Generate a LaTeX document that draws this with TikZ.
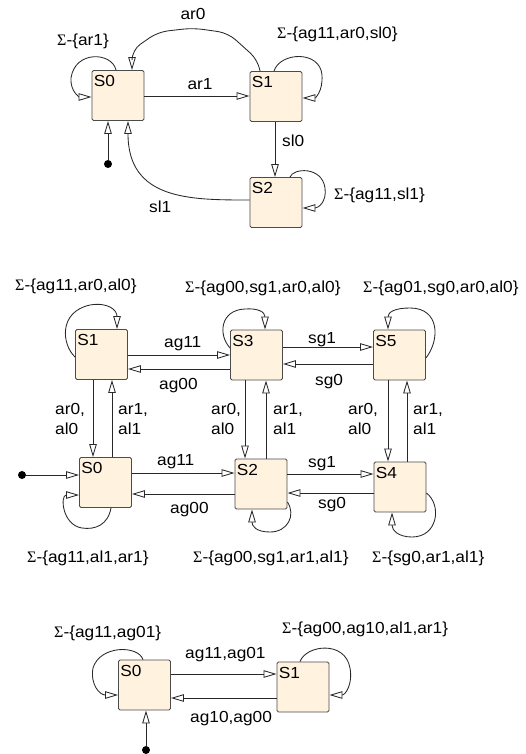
\documentclass[tikz,border=0pt]{standalone}
\usepackage{fontspec}
\setmainfont{Liberation Sans}[FakeStretch=1.08]
\newfontfamily\sigfont{Liberation Serif}
\usetikzlibrary{arrows.meta}
\definecolor{boxfill}{RGB}{255,243,224}
\definecolor{boxline}{RGB}{75,75,75}
\definecolor{edgecol}{RGB}{40,40,40}
\newcommand{\Sg}{{\sigfont Σ}}
\begin{document}
\begin{tikzpicture}[x=1pt,y=-1pt,
  lbl/.style={inner sep=0pt, font=\fontsize{16}{20}\selectfont},
  state/.style={draw=boxline, fill=boxfill, rounded corners=1.5pt, minimum width=52pt, minimum height=50pt, inner sep=0pt, line width=0.9pt},
  arr/.style={draw=edgecol, line width=0.85pt, -{Triangle[open,length=13pt,width=7.5pt]}},
  dot/.style={circle, fill=black, inner sep=0pt, minimum size=8pt},
]
\useasboundingbox (0,0) rectangle (525,754);

% ---------- top diagram ----------
\node[state, label={[lbl,anchor=north west,xshift=2pt,yshift=-5.5pt]north west:S0}] (a0) at (118,95.5) {};
\node[state, label={[lbl,anchor=north west,xshift=2pt,yshift=-5.5pt]north west:S1}] (a1) at (276,96.5) {};
\node[state, label={[lbl,anchor=north west,xshift=2pt,yshift=-5.5pt]north west:S2}] (a2) at (276,202.5) {};
\node[dot] (ai) at (108,164) {};
\draw[arr] (ai) -- (ai |- a0.south);
\draw[arr] ([yshift=-0.5pt]a0.east) -- ([yshift=-0.5pt]a0.east -| a1.west);
\draw[arr] ([xshift=-1pt]a1.south) -- ([xshift=-1pt]a1.south |- a2.north);
\draw[arr, rounded corners=10pt] ([xshift=-16pt]a1.north) -- (258,60) -- (228,33) -- (193,28) -- (158,32) -- (132,50) -- ([xshift=14pt]a0.north);
\draw[arr] ([yshift=2.5pt]a2.west) .. controls (190,200) and (128,200) .. ([xshift=10pt]a0.south);
\draw[arr] ([xshift=-2pt]a0.north) .. controls (112,52) and (75,50) .. (71,78) .. controls (70,92) and (80,97) .. ([yshift=-1.5pt]a0.west);
\draw[arr] ([xshift=-2pt]a1.north) .. controls (280,52) and (320,50) .. (322,75) .. controls (323,92) and (315,98) .. ([yshift=-1.5pt]a1.east);
\draw[arr] ([xshift=14pt]a2.north) .. controls (293,168) and (322,166) .. (325,188) .. controls (327,202) and (318,208) .. ([yshift=-5.5pt]a2.east);
\node[lbl,anchor=base] at (193,20) {ar0};
\node[lbl,anchor=base west] at (57,46) {\Sg-\{ar1\}};
\node[lbl,anchor=base] at (200,90) {ar1};
\node[lbl,anchor=base west] at (277,39) {\Sg-\{ag11,ar0,sl0\}};
\node[lbl,anchor=base west] at (282,147) {sl0};
\node[lbl,anchor=base west] at (334,199) {\Sg-\{ag11,sl1\}};
\node[lbl,anchor=base west] at (149,212) {sl1};

% ---------- middle diagram ----------
\node[state, label={[lbl,anchor=north west,xshift=2pt,yshift=-5.5pt]north west:S1}] (b1) at (101.5,354.5) {};
\node[state, label={[lbl,anchor=north west,xshift=2pt,yshift=-5.5pt]north west:S3}] (b3) at (256.5,355) {};
\node[state, label={[lbl,anchor=north west,xshift=2pt,yshift=-5.5pt]north west:S5}] (b5) at (399.5,355) {};
\node[state, label={[lbl,anchor=north west,xshift=2pt,yshift=-5.5pt]north west:S0}] (b0) at (105.5,482.5) {};
\node[state, label={[lbl,anchor=north west,xshift=2pt,yshift=-5.5pt]north west:S2}] (b2) at (261,484) {};
\node[state, label={[lbl,anchor=north west,xshift=2pt,yshift=-5.5pt]north west:S4}] (b4) at (400,487) {};
\draw[arr] ([yshift=-0.5pt]b1.east) -- ([yshift=-0.5pt]b1.east -| b3.west);
\draw[arr] ([yshift=-14pt]b3.west) -- ([yshift=-14pt]b3.west -| b1.east);
\draw[arr] ([yshift=8pt]b3.east) -- ([yshift=8pt]b3.east -| b5.west);
\draw[arr] ([yshift=-9pt]b5.west) -- ([yshift=-9pt]b5.west -| b3.east);
\draw[arr] ([xshift=-8.5pt]b1.south) -- ([xshift=-8.5pt]b1.south |- b0.north);
\draw[arr] ([xshift=6.5pt]b0.north) -- ([xshift=6.5pt]b0.north |- b1.south);
\draw[arr] ([xshift=-11.5pt]b3.south) -- ([xshift=-11.5pt]b3.south |- b2.north);
\draw[arr] ([xshift=5pt]b2.north) -- ([xshift=5pt]b2.north |- b3.south);
\draw[arr] ([xshift=-11.5pt]b5.south) -- ([xshift=-11.5pt]b5.south |- b4.north);
\draw[arr] ([xshift=7pt]b4.north) -- ([xshift=7pt]b4.north |- b5.south);
\draw[arr] ([yshift=9.5pt]b0.east) -- ([yshift=9.5pt]b0.east -| b2.west);
\draw[arr] ([yshift=-10pt]b2.west) -- ([yshift=-10pt]b2.west -| b0.east);
\draw[arr] ([yshift=10pt]b2.east) -- ([yshift=10pt]b2.east -| b4.west);
\draw[arr] ([yshift=-6pt]b4.west) -- ([yshift=-6pt]b4.west -| b2.east);
\node[dot] (bi) at (22,475) {};
\draw[arr] (bi) -- (bi -| b0.west);
\draw[arr] ([yshift=-2.5pt]b1.west) .. controls (62,345) and (58,312) .. (90,305) .. controls (108,302) and (117,310) .. ([xshift=15.5pt]b1.north);
\draw[arr] ([yshift=7pt]b3.west) .. controls (218,335) and (220,310) .. (245,309) .. controls (258,308) and (265,312) .. ([xshift=8.5pt]b3.north);
\draw[arr] ([yshift=-3pt]b5.east) .. controls (440,340) and (440,308) .. (410,308) .. controls (395,308) and (388,312) .. ([xshift=-11.5pt]b5.north);
\draw[arr] ([xshift=5.5pt]b0.south) .. controls (108,525) and (95,530) .. (82,528) .. controls (62,525) and (60,495) .. ([yshift=-12.5pt]b0.west);
\draw[arr] ([yshift=-18pt]b2.east) .. controls (296,515) and (288,532) .. (270,532) .. controls (256,532) and (252,526) .. ([xshift=-9pt]b2.south);
\draw[arr] ([yshift=-6pt]b4.east) .. controls (442,505) and (438,537) .. (412,537) .. controls (398,537) and (392,530) .. ([xshift=-8pt]b4.south);
\node[lbl,anchor=base west] at (15,290) {\Sg-\{ag11,ar0,al0\}};
\node[lbl,anchor=base west] at (185,292) {\Sg-\{ag00,sg1,ar0,al0\}};
\node[lbl,anchor=base west] at (363,292) {\Sg-\{ag01,sg0,ar0,al0\}};
\node[lbl,anchor=base west] at (164,347) {ag11};
\node[lbl,anchor=base west] at (159,389) {ag00};
\node[lbl,anchor=base west] at (308,343) {sg1};
\node[lbl,anchor=base west] at (315,385) {sg0};
\node[lbl,anchor=base west] at (157,465) {ag11};
\node[lbl,anchor=base west] at (308,467) {sg1};
\node[lbl,anchor=base west] at (318,508) {sg0};
\node[lbl,anchor=base west] at (170,513) {ag00};
\node[lbl,anchor=north west,align=left] at (55,403.5) {ar0,\\al0};
\node[lbl,anchor=north west,align=left] at (118,403.5) {ar1,\\al1};
\node[lbl,anchor=north west,align=left] at (211,403.5) {ar0,\\al0};
\node[lbl,anchor=north west,align=left] at (273,403.5) {ar1,\\al1};
\node[lbl,anchor=north west,align=left] at (348,403.5) {ar0,\\al0};
\node[lbl,anchor=north west,align=left] at (413,403.5) {ar1,\\al1};
\node[lbl,anchor=base west] at (27,562) {\Sg-\{ag11,al1,ar1\}};
\node[lbl,anchor=base west] at (193,562) {\Sg-\{ag00,sg1,ar1,al1\}};
\node[lbl,anchor=base west] at (372,562) {\Sg-\{sg0,ar1,al1\}};

% ---------- bottom diagram ----------
\node[state, label={[lbl,anchor=north west,xshift=2pt,yshift=-5.5pt]north west:S0}] (c0) at (144.5,685) {};
\node[state, label={[lbl,anchor=north west,xshift=2pt,yshift=-5.5pt]north west:S1}] (c1) at (303,687) {};
\draw[arr] ([yshift=11pt]c0.east) -- ([yshift=11pt]c0.east -| c1.west);
\draw[arr] ([yshift=-11pt]c1.west) -- ([yshift=-11pt]c1.west -| c0.east);
\node[dot] (ci) at (146,750) {};
\draw[arr] (ci) -- (ci |- c0.south);
\draw[arr] ([xshift=-1.5pt]c0.north) .. controls (138,645) and (100,645) .. (93,668) .. controls (90,685) and (100,695) .. ([yshift=-10pt]c0.west);
\draw[arr] ([xshift=-3pt]c1.north) .. controls (306,645) and (345,640) .. (350,668) .. controls (353,685) and (345,695) .. ([yshift=-8pt]c1.east);
\node[lbl,anchor=base west] at (54,637) {\Sg-\{ag11,ag01\}};
\node[lbl,anchor=base west] at (282,633) {\Sg-\{ag00,ag10,al1,ar1\}};
\node[lbl,anchor=base west] at (185,658) {ag11,ag01};
\node[lbl,anchor=base west] at (190,722) {ag10,ag00};
\end{tikzpicture}
\end{document}
